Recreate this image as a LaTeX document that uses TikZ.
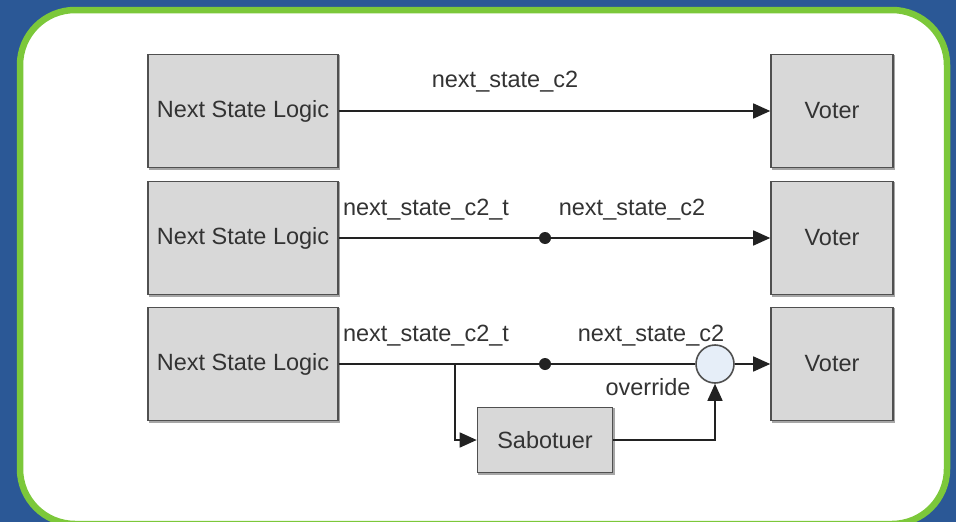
\documentclass[tikz,border=0pt]{standalone}
\usepackage{fontspec}
\setmainfont{Liberation Sans}
\usetikzlibrary{arrows.meta}
\definecolor{slideblue}{HTML}{2B5896}
\definecolor{framegreen}{HTML}{7CC83A}
\definecolor{boxfill}{HTML}{D8D8D8}
\definecolor{boxedge}{HTML}{505050}
\definecolor{ink}{HTML}{222222}
\definecolor{txt}{HTML}{333333}
\definecolor{muxfill}{HTML}{E6EEF8}
\tikzset{
  block/.style={draw=boxedge, line width=1.6pt, fill=boxfill, text=txt,
    minimum width=#1, inner sep=0pt, font=\fontsize{23.5}{28}\selectfont},
  block/.default=190pt,
  shadowed/.style={preaction={draw=gray!70, line width=1.6pt, fill=gray!70,
    transform canvas={xshift=1.5pt, yshift=-1.5pt}}},
  wire/.style={draw=ink, line width=1.6pt},
  sig/.style={wire, -{Triangle[length=17pt,width=15pt]}},
  lbl/.style={text=txt, anchor=base, inner sep=0pt, font=\fontsize{23.5}{28}\selectfont},
  junction/.style={circle, fill=ink, inner sep=0pt, minimum size=12pt},
  mux/.style={circle, draw=boxedge, line width=1.6pt, fill=muxfill, minimum size=38pt, inner sep=0pt}
}
\begin{document}
\begin{tikzpicture}[x=1pt, y=-1pt]
  \useasboundingbox (0,0) rectangle (956,522);
  % slide background and frame
  \fill[slideblue] (0,0) rectangle (956,522);
  \draw[framegreen, line width=6.5pt, fill=white, rounded corners=55pt]
    (20,10) rectangle (947,524);

  % row 1: direct connection
  \node[block, shadowed, minimum height=113pt] (nsl1) at (243,111) {Next State Logic};
  \node[block=122pt, shadowed, minimum height=113pt] (v1) at (832,111) {Voter};
  \draw[sig] (nsl1.east) -- (v1.west);
  \node[lbl] (l1) at (505,87) {next\_state\_c2};

  % row 2: signal tapped through a junction
  \node[block, shadowed, minimum height=113pt] (nsl2) at (243,238) {Next State Logic};
  \node[block=122pt, shadowed, minimum height=113pt] (v2) at (832,238) {Voter};
  \node[junction] (j2) at (545,238) {};
  \draw[wire] (nsl2.east) -- (j2);
  \draw[sig] (j2) -- (v2.west);
  \node[lbl] (l2a) at (426,215) {next\_state\_c2\_t};
  \node[lbl] (l2b) at (632,215) {next\_state\_c2};

  % row 3: saboteur overrides the signal
  \node[block, shadowed, minimum height=113pt] (nsl3) at (243,364) {Next State Logic};
  \node[block=122pt, shadowed, minimum height=113pt] (v3) at (832,364) {Voter};
  \node[junction] (j3) at (545,364) {};
  \node[mux] (m3) at (715,364) {};
  \node[block=135pt, shadowed, minimum height=65pt] (sab) at (545,440) {Sabotuer};
  \coordinate (br) at (455,364);
  \draw[wire] (nsl3.east) -- (j3);
  \draw[wire] (j3) -- (m3.west);
  \draw[sig] (m3.east) -- (v3.west);
  \draw[sig] (br) |- (sab.west);
  \draw[sig] (sab.east) -| (m3.south);
  \node[lbl] (l3a) at (426,341) {next\_state\_c2\_t};
  \node[lbl] (l3b) at (651,341) {next\_state\_c2};
  \node[lbl] (l3c) at (648,395) {override};
\end{tikzpicture}
\end{document}
